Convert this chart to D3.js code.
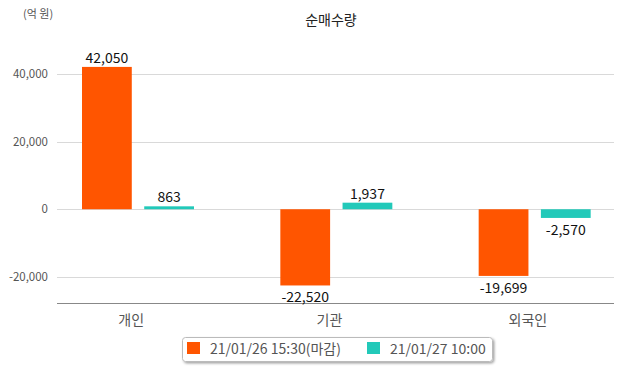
<!DOCTYPE html>
<html><head><meta charset="utf-8">
<script src="https://cdn.jsdelivr.net/npm/d3@7"></script>
<style>
body{margin:0;background:#fff;}
text{font-family:"Noto Sans CJK KR","Noto Sans",sans-serif;}
</style></head>
<body><svg id="c" width="622" height="368"></svg>
<script>
const categories = ["개인","기관","외국인"];
const seriesNames = ["21/01/26 15:30(마감)","21/01/27 10:00"];
const seriesA = [42050,-22520,-19699];
const seriesB = [863,1937,-2570];
const yTicks = [-20000,0,20000,40000];
const colors = ["#FF5500","#22C9B9"];

const fmt = v => d3.format(",")(v).replace("\u2212","-");
const svg = d3.select("#c");
const y = d3.scaleLinear().domain([-27700,50000]).range([303,40]);
const x0 = d3.scaleBand().domain(categories).range([39,634]);
const x1 = d3.scaleBand().domain(seriesNames).range([43,155]).paddingInner(0.2);

// grid
svg.append("g").selectAll("line").data(yTicks).join("line")
  .attr("x1",57).attr("x2",614).attr("y1",d=>Math.round(y(d))+0.5).attr("y2",d=>Math.round(y(d))+0.5)
  .attr("stroke","#d9d9d9").attr("stroke-width",1);
svg.append("g").selectAll("text").data(yTicks).join("text")
  .attr("x",48).attr("y",d=>y(d)+4).attr("text-anchor","end")
  .attr("font-size",11.5).attr("fill","#555").text(fmt);
svg.append("line").attr("x1",57).attr("x2",614).attr("y1",303.5).attr("y2",303.5)
  .attr("stroke","#888").attr("stroke-width",1.2);

const data = categories.map((c,i)=>({c, vals:[seriesA[i],seriesB[i]]}));
const g = svg.append("g").selectAll("g").data(data).join("g")
  .attr("transform",d=>`translate(${x0(d.c)},0)`);
g.selectAll("rect").data(d=>d.vals.map((v,j)=>({v,s:seriesNames[j],j}))).join("rect")
  .attr("x",d=>x1(d.s)).attr("width",x1.bandwidth())
  .attr("y",d=>y(Math.max(0,d.v))).attr("height",d=>Math.abs(y(d.v)-y(0)))
  .attr("fill",d=>colors[d.j]);
g.selectAll("text").data(d=>d.vals.map((v,j)=>({v,s:seriesNames[j],j}))).join("text")
  .attr("x",d=>x1(d.s)+x1.bandwidth()/2)
  .attr("y",d=>d.v>=0? y(d.v)-4 : y(d.v)+17)
  .attr("text-anchor","middle").attr("font-size",14).attr("fill","#111")
  .text(d=>fmt(d.v));

// category labels
svg.append("g").selectAll("text").data(categories).join("text")
  .attr("x",d=>x0(d)+x0.bandwidth()/2-7).attr("y",325).attr("text-anchor","middle")
  .attr("font-size",14).attr("fill","#555").text(d=>d);

// title & unit
svg.append("text").attr("x",331).attr("y",25).attr("text-anchor","middle")
  .attr("font-size",14).attr("fill","#222").text("순매수량");
svg.append("text").attr("x",23).attr("y",18).attr("font-size",11).attr("fill","#555").text("(억 원)");

// legend
const defs = svg.append("defs");
const f = defs.append("filter").attr("id","sh").attr("x","-10%").attr("y","-30%").attr("width","120%").attr("height","160%");
f.append("feDropShadow").attr("dx",1.5).attr("dy",1.5).attr("stdDeviation",1).attr("flood-color","#000").attr("flood-opacity",0.35);
svg.append("rect").attr("x",182.5).attr("y",337.5).attr("width",310).attr("height",24).attr("rx",3)
  .attr("fill","#fff").attr("stroke","#bbb").attr("filter","url(#sh)");
const legX = [187,367];
const lg = svg.append("g").selectAll("g").data(seriesNames).join("g")
  .attr("transform",(d,i)=>`translate(${legX[i]},342)`);
lg.append("rect").attr("width",13).attr("height",12).attr("fill",(d,i)=>colors[i]);
lg.append("text").attr("x",23).attr("y",11.5).attr("font-size",14).attr("fill","#555").text(d=>d);
</script></body></html>
